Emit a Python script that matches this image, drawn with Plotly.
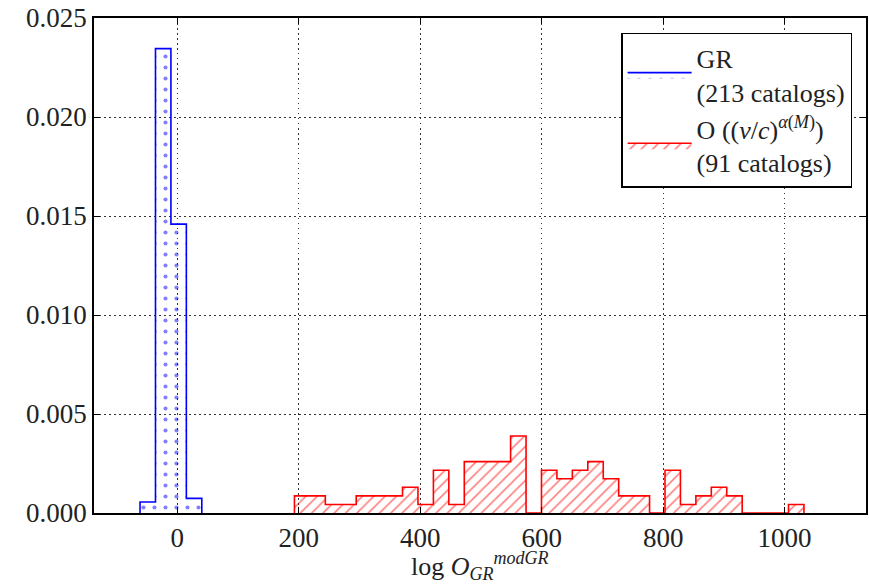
import plotly.graph_objects as go

# histogram bins (shared by both series)
bin_start = -61.2
bin_width = 25.42

# GR catalogs: counts in bins 0..3
gr_first_bin = 0
gr_counts = [3, 127, 79, 4]
gr_total = 213

# modGR catalogs: counts in bins 10..42
mod_first_bin = 10
mod_counts = [2, 2, 1, 1, 2, 2, 2, 3, 1, 5, 1, 6, 6, 6, 9, 0, 5, 4, 5, 6, 4, 2, 2, 0,
              5, 1, 2, 3, 2, 0, 0, 0, 1]
mod_total = 91

x_ticks = [0, 200, 400, 600, 800, 1000]
y_ticks = [0.0, 0.005, 0.010, 0.015, 0.020, 0.025]


def step_outline(first_bin, counts, total):
    xs, ys = [], []
    x0 = bin_start + first_bin * bin_width
    xs.append(x0); ys.append(0)
    for i, c in enumerate(counts):
        left = bin_start + (first_bin + i) * bin_width
        right = left + bin_width
        d = c / (total * bin_width)
        xs += [left, right]
        ys += [d, d]
    xs.append(bin_start + (first_bin + len(counts)) * bin_width); ys.append(0)
    return xs, ys


FONT = "Liberation Serif"

fig = go.Figure()

gx, gy = step_outline(gr_first_bin, gr_counts, gr_total)
fig.add_trace(go.Scatter(
    x=gx, y=gy, mode="lines", fill="toself",
    line=dict(color="blue", width=1.6),
    fillcolor="rgba(0,0,0,0)",
    fillpattern=dict(shape=".", fgcolor="blue", bgcolor="rgba(0,0,0,0)",
                     size=11, solidity=0.11),
    name="GR<br>(213 catalogs)",
))

mx, my = step_outline(mod_first_bin, mod_counts, mod_total)
fig.add_trace(go.Scatter(
    x=mx, y=my, mode="lines", fill="toself",
    line=dict(color="red", width=1.6),
    fillcolor="rgba(0,0,0,0)",
    fillpattern=dict(shape="/", fgcolor="red", bgcolor="rgba(0,0,0,0)",
                     size=8, solidity=0.2),
    name="O ((<i>v</i>/<i>c</i>)<sup><i>α</i>(<i>M</i>)</sup>)<br>(91 catalogs)",
))

axis_common = dict(
    showline=True, linecolor="black", linewidth=1.5, mirror="ticks",
    ticks="inside", ticklen=6, tickcolor="black", tickwidth=1,
    showgrid=True, gridcolor="#333", gridwidth=1, griddash="1.5px,3.5px",
    zeroline=False, automargin=False,
    tickfont=dict(family=FONT, size=27, color="#222"),
)

fig.update_xaxes(range=[-137, 1134], tickvals=x_ticks, **axis_common)
fig.update_yaxes(range=[0, 0.025], tickvals=y_ticks, tickformat=".3f", **axis_common)

# x-axis title as an annotation so it can sit just below the tick labels
fig.add_annotation(
    text=("log <i>O</i><sub><span style='font-size:18px'><i>GR</i></span></sub>"
          "<sup><span style='font-size:18px'><i>modGR</i></span></sup>"),
    xref="paper", yref="paper", x=0.5, y=-0.148, xanchor="center", yanchor="bottom",
    showarrow=False, font=dict(family=FONT, size=26, color="#222"),
)

fig.update_layout(
    width=869, height=585,
    margin=dict(l=94, r=3, t=18, b=72),
    plot_bgcolor="white", paper_bgcolor="white",
    showlegend=True,
    legend=dict(x=0.982, y=0.97, xanchor="right", yanchor="top",
                bordercolor="black", borderwidth=1.5, bgcolor="white",
                font=dict(family=FONT, size=26, color="#222"),
                itemwidth=64, tracegroupgap=14),
)

fig.write_html("out.html")
